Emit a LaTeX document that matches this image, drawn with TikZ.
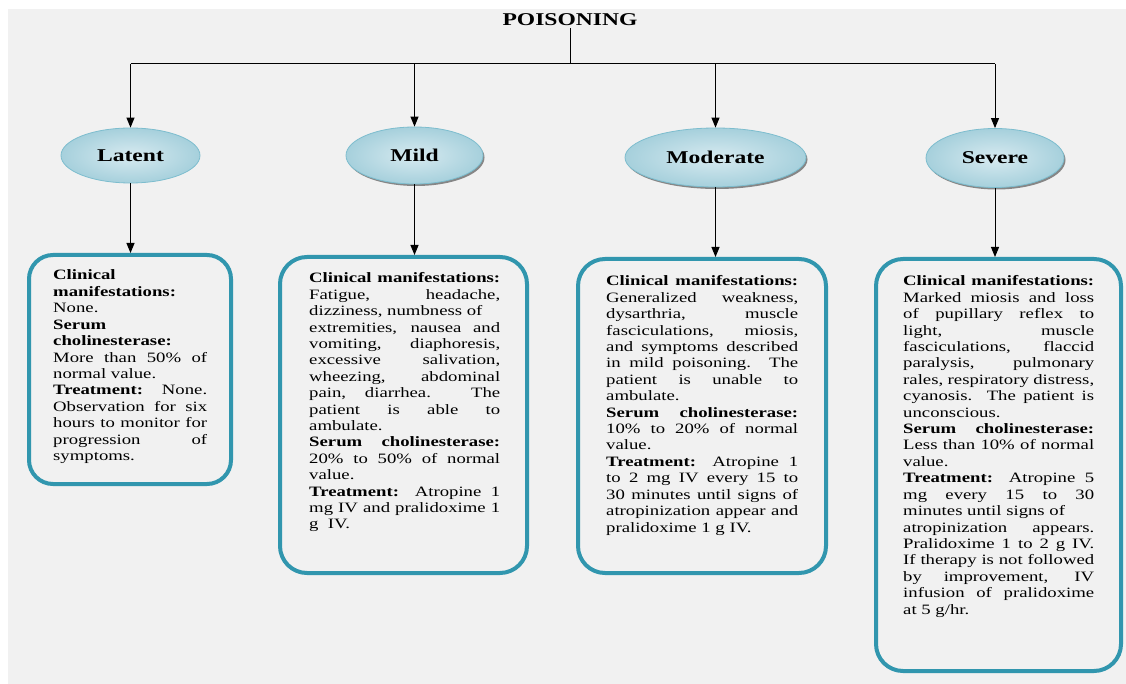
\documentclass[tikz,border=0pt]{standalone}
\usepackage{fontspec}
\setmainfont{Liberation Serif}[FakeStretch=1.31]
\usetikzlibrary{shapes.geometric,arrows.meta,shadows}
\definecolor{bgc}{HTML}{F1F1F1}
\definecolor{boxc}{HTML}{3196AE}
\definecolor{elin}{HTML}{D7EAF0}
\definecolor{elout}{HTML}{A6D0DC}
\definecolor{elbd}{HTML}{7DBDCE}
\newcommand\JL[1]{\hbox to\hsize{#1}}
\newcommand\RL[1]{\hbox to\hsize{#1\hfil}}
\newcommand\bodyfont{\fontsize{14.3}{16.4}\selectfont}
\begin{document}
\begin{tikzpicture}[x=1pt,y=-1pt,
  stage/.style={ellipse, draw=elbd, line width=0.8pt, inner color=elin, outer color=elout, inner sep=0pt, font=\fontsize{18}{20}\selectfont\bfseries},
  shad/.style={drop shadow={shadow xshift=1.5pt, shadow yshift=-2pt, fill=black!75, opacity=0.6}},
  infobox/.style={draw=boxc, line width=4pt, rounded corners=27pt, fill=bgc, inner sep=0pt},
  bodytext/.style={anchor=base west, inner sep=0pt},
  conn/.style={line width=1pt, draw=black},
  arr/.style={conn, -{Triangle[length=10pt,width=8pt]}}
]
\useasboundingbox (0,0) rectangle (1126,684);
\fill[white] (0,0) rectangle (1126,684);
\fill[bgc] (8,9) rectangle (1126,684);

% title
\node[font=\fontsize{18}{20}\selectfont\bfseries, anchor=base, inner sep=1.5pt] (poison) at (570,26) {POISONING};

% stages
\node[stage, minimum width=139pt, minimum height=55pt] (latent) at (130.5,155.5) {Latent};
\node[stage, shad, minimum width=137pt, minimum height=57pt] (mild) at (414.5,155.5) {Mild};
\node[stage, shad, minimum width=181pt, minimum height=59pt] (moderate) at (715.5,157.5) {Moderate};
\node[stage, shad, minimum width=138pt, minimum height=59pt] (severe) at (995,158) {Severe};

% boxes
\node[infobox, rounded corners=24pt, minimum width=202pt, minimum height=229pt] (latentbox) at (130,369.5) {};
\node[infobox, minimum width=247pt, minimum height=316pt] (mildbox) at (403.5,415) {};
\node[infobox, minimum width=248pt, minimum height=314pt] (moderatebox) at (702,416) {};
\node[infobox, minimum width=245pt, minimum height=412pt] (severebox) at (998.5,465) {};

% connectors
\coordinate (bus) at (568,64);
\draw[conn] (poison.south) -- (poison.south |- bus);
\draw[conn] (latent.north |- bus) -- (severe.north |- bus);
\draw[arr] (latent.north |- bus) -- (latent.north);
\draw[arr] (mild.north |- bus) -- (mild.north);
\draw[arr] (moderate.north |- bus) -- (moderate.north);
\draw[arr] (severe.north |- bus) -- (severe.north);
\draw[arr] (latent.south) -- (latent.south |- latentbox.north);
\draw[arr] (mild.south) -- (mild.south |- mildbox.north);
\draw[arr] (moderate.south) -- (moderate.south |- moderatebox.north);
\draw[arr] (severe.south) -- (severe.south |- severebox.north);

% texts
\node[bodytext] (latenttext) at (53,280) {\vtop{\hsize=154pt\bodyfont
\RL{\textbf{Clinical}}
\RL{\textbf{manifestations:}}
\RL{None.}
\RL{\textbf{Serum}}
\RL{\textbf{cholinesterase:}}
\JL{More than 50\% of}
\RL{normal value.}
\JL{\textbf{Treatment:} None.}
\JL{Observation for six}
\JL{hours to monitor for}
\JL{progression of}
\RL{symptoms.}}};

\node[bodytext] (mildtext) at (309,283) {\vtop{\hsize=191pt\bodyfont
\JL{\textbf{Clinical manifestations:}}
\JL{Fatigue, headache,}
\RL{dizziness, numbness of}
\JL{extremities, nausea and}
\JL{vomiting, diaphoresis,}
\JL{excessive salivation,}
\JL{wheezing, abdominal}
\JL{pain, diarrhea. The}
\JL{patient is able to}
\RL{ambulate.}
\JL{\textbf{Serum cholinesterase:}}
\JL{20\% to 50\% of normal}
\RL{value.}
\JL{\textbf{Treatment:} Atropine 1}
\JL{mg IV and pralidoxime 1}
\RL{g\ \ IV.}}};

\node[bodytext] (moderatetext) at (606,286) {\vtop{\hsize=192pt\bodyfont
\JL{\textbf{Clinical manifestations:}}
\JL{Generalized weakness,}
\JL{dysarthria, muscle}
\JL{fasciculations, miosis,}
\JL{and symptoms described}
\JL{in mild poisoning. The}
\JL{patient is unable to}
\RL{ambulate.}
\JL{\textbf{Serum cholinesterase:}}
\JL{10\% to 20\% of normal}
\RL{value.}
\JL{\textbf{Treatment:} Atropine 1}
\JL{to 2 mg IV every 15 to}
\JL{30 minutes until signs of}
\JL{atropinization appear and}
\RL{pralidoxime 1 g IV.}}};

\node[bodytext] (severetext) at (903,286) {\vtop{\hsize=191pt\bodyfont
\JL{\textbf{Clinical manifestations:}}
\JL{Marked miosis and loss}
\JL{of pupillary reflex to}
\JL{light, muscle}
\JL{fasciculations, flaccid}
\JL{paralysis, pulmonary}
\JL{rales, respiratory distress,}
\JL{cyanosis. The patient is}
\RL{unconscious.}
\JL{\textbf{Serum cholinesterase:}}
\JL{Less than 10\% of normal}
\RL{value.}
\JL{\textbf{Treatment:} Atropine 5}
\JL{mg every 15 to 30}
\RL{minutes until signs of}
\JL{atropinization appears.}
\JL{Pralidoxime 1 to 2 g IV.}
\JL{If therapy is not followed}
\JL{by improvement, IV}
\JL{infusion of pralidoxime}
\RL{at 5 g/hr.}}};
\end{tikzpicture}
\end{document}
